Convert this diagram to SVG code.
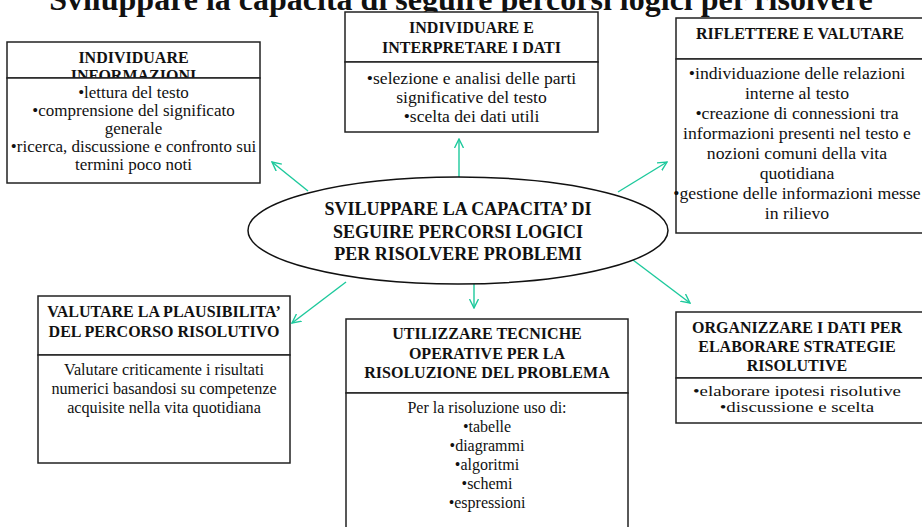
<svg xmlns="http://www.w3.org/2000/svg" width="922" height="527" viewBox="0 0 922 527">
<defs>
<style>
text{font-family:"Liberation Serif","Times New Roman",serif;fill:#111;text-anchor:middle}
.t{font-size:32px;font-weight:bold}
.h{font-size:16px;font-weight:bold}
.c{font-size:18px;font-weight:bold}
.box{fill:#fff;stroke:#222;stroke-width:1.5}
.conn{stroke:#1DC99C;stroke-width:1.4;fill:none;marker-end:url(#ah)}
</style>
<marker id="ah" viewBox="0 0 10 10" refX="9" refY="5" markerWidth="10" markerHeight="10" markerUnits="userSpaceOnUse" orient="auto">
<path d="M0,0.5 L9,5 L0,9.5" fill="none" stroke="#1DC99C" stroke-width="1.4"/>
</marker>
</defs>
<rect width="922" height="527" fill="#fff"/>
<text class="t" x="461" y="10">Sviluppare la capacità di seguire percorsi logici per risolvere</text>

<g id="connectors">
<line class="conn" x1="308" y1="191" x2="272" y2="162"/>
<line class="conn" x1="459" y1="177" x2="459" y2="139"/>
<line class="conn" x1="618" y1="192" x2="667" y2="162"/>
<line class="conn" x1="633" y1="260" x2="690" y2="303"/>
<line class="conn" x1="474" y1="284" x2="474" y2="308"/>
<line class="conn" x1="346" y1="282" x2="292" y2="323"/>
</g>

<g id="center">
<ellipse cx="458" cy="230.5" rx="210" ry="53.5" fill="#fff" stroke="#111" stroke-width="1.5"/>
<text class="c" x="458" y="215">SVILUPPARE LA CAPACITA’ DI</text>
<text class="c" x="458" y="237.5">SEGUIRE PERCORSI LOGICI</text>
<text class="c" x="458" y="260">PER RISOLVERE PROBLEMI</text>
</g>

<g id="individuare-informazioni">
<rect class="box" x="7" y="42" width="253" height="36"/>
<text class="h" x="133.5" y="63">INDIVIDUARE</text>
<text class="h" x="133.5" y="81">INFORMAZIONI</text>
<rect class="box" x="7" y="78" width="253" height="105"/>
<g font-size="17px">
<text x="133.5" y="98">•lettura del testo</text>
<text x="133.5" y="116">•comprensione del significato</text>
<text x="133.5" y="134">generale</text>
<text x="133.5" y="152">•ricerca, discussione e confronto sui</text>
<text x="133.5" y="170">termini poco noti</text>
</g>
</g>

<g id="individuare-interpretare">
<rect class="box" x="345" y="12" width="253" height="50"/>
<text class="h" x="471.5" y="33">INDIVIDUARE E</text>
<text class="h" x="471.5" y="53">INTERPRETARE I DATI</text>
<rect class="box" x="345" y="62" width="253" height="70"/>
<g font-size="17.6px">
<text x="471.5" y="84">•selezione e analisi delle parti</text>
<text x="471.5" y="103">significative del testo</text>
<text x="471.5" y="122">•scelta dei dati utili</text>
</g>
</g>

<g id="riflettere-valutare">
<rect class="box" x="676" y="18" width="250" height="41"/>
<text class="h" x="800" y="39">RIFLETTERE E VALUTARE</text>
<rect class="box" x="676" y="59" width="250" height="174"/>
<g font-size="17.7px">
<text x="797" y="79">•individuazione delle relazioni</text>
<text x="797" y="99">interne al testo</text>
<text x="797" y="119">•creazione di connessioni tra</text>
<text x="797" y="139">informazioni presenti nel testo e</text>
<text x="797" y="159">nozioni comuni della vita</text>
<text x="797" y="179">quotidiana</text>
<text x="797" y="199">•gestione delle informazioni messe</text>
<text x="797" y="219">in rilievo</text>
</g>
</g>

<g id="valutare-plausibilita">
<rect class="box" x="38" y="296" width="252" height="59"/>
<text class="h" x="164" y="317">VALUTARE LA PLAUSIBILITA’</text>
<text class="h" x="164" y="337">DEL PERCORSO RISOLUTIVO</text>
<rect class="box" x="38" y="355" width="252" height="108"/>
<g font-size="16.2px">
<text x="164" y="375">Valutare criticamente i risultati</text>
<text x="164" y="394">numerici basandosi su competenze</text>
<text x="164" y="413">acquisite nella vita quotidiana</text>
</g>
</g>

<g id="utilizzare-tecniche">
<rect class="box" x="346" y="319" width="282" height="74"/>
<text class="h" x="487" y="339">UTILIZZARE TECNICHE</text>
<text class="h" x="487" y="359">OPERATIVE PER LA</text>
<text class="h" x="487" y="378">RISOLUZIONE DEL PROBLEMA</text>
<rect class="box" x="346" y="393" width="282" height="140"/>
<g font-size="16px">
<text x="487" y="413">Per la risoluzione uso di:</text>
<text x="487" y="432">•tabelle</text>
<text x="487" y="451">•diagrammi</text>
<text x="487" y="470">•algoritmi</text>
<text x="487" y="489">•schemi</text>
<text x="487" y="508">•espressioni</text>
</g>
</g>

<g id="organizzare-dati">
<rect class="box" x="676" y="312" width="250" height="66"/>
<text class="h" x="797" y="333">ORGANIZZARE I DATI PER</text>
<text class="h" x="797" y="352">ELABORARE STRATEGIE</text>
<text class="h" x="797" y="371">RISOLUTIVE</text>
<rect class="box" x="676" y="378" width="250" height="45"/>
<g font-size="15.5px" transform="translate(797,0) scale(1.22,1)">
<text x="0" y="396.5">•elaborare ipotesi risolutive</text>
<text x="0" y="412">•discussione e scelta</text>
</g>
</g>
</svg>
